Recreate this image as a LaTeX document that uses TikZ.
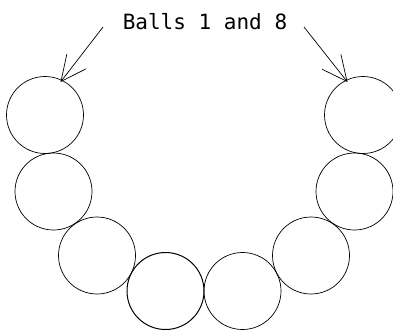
\documentclass[tikz,border=0pt]{standalone}
\usepackage{fontspec}
\newfontfamily\lblfont{DejaVu Sans Mono}
\usetikzlibrary{arrows.meta}
\begin{document}
\begin{tikzpicture}[x=1pt,y=-1pt,
  ball/.style={draw, circle, minimum size=77pt, inner sep=0pt, line width=0.7pt},
  pointer/.style={line width=0.7pt, -{Straight Barb[length=25pt,width=24pt,line width=0.7pt]}}]
\useasboundingbox (0,0) rectangle (393,330);
\clip (0,0) rectangle (393,330);
\node[ball] (b1) at (45,115) {};
\node[ball] (b2) at (53.5,191.5) {};
\node[ball] (b3) at (97,255.5) {};
\node[ball, line width=1pt] (b4) at (165.5,291) {};
\node[ball] (b5) at (242.5,291) {};
\node[ball] (b6) at (311,255.5) {};
\node[ball] (b7) at (354.5,191.5) {};
\node[ball] (b8) at (363,115) {};
\node[anchor=base, inner sep=0pt, font=\lblfont\fontsize{21}{25}\selectfont] (lbl) at (205,29) {Balls 1 and 8};
\coordinate (s1) at (103,27);
\coordinate (s8) at (304,27);
\draw[pointer, shorten >=-2.5pt] (s1) -- (b1.64);
\draw[pointer, shorten >=-2.5pt] (s8) -- (b8.116);
\end{tikzpicture}
\end{document}
